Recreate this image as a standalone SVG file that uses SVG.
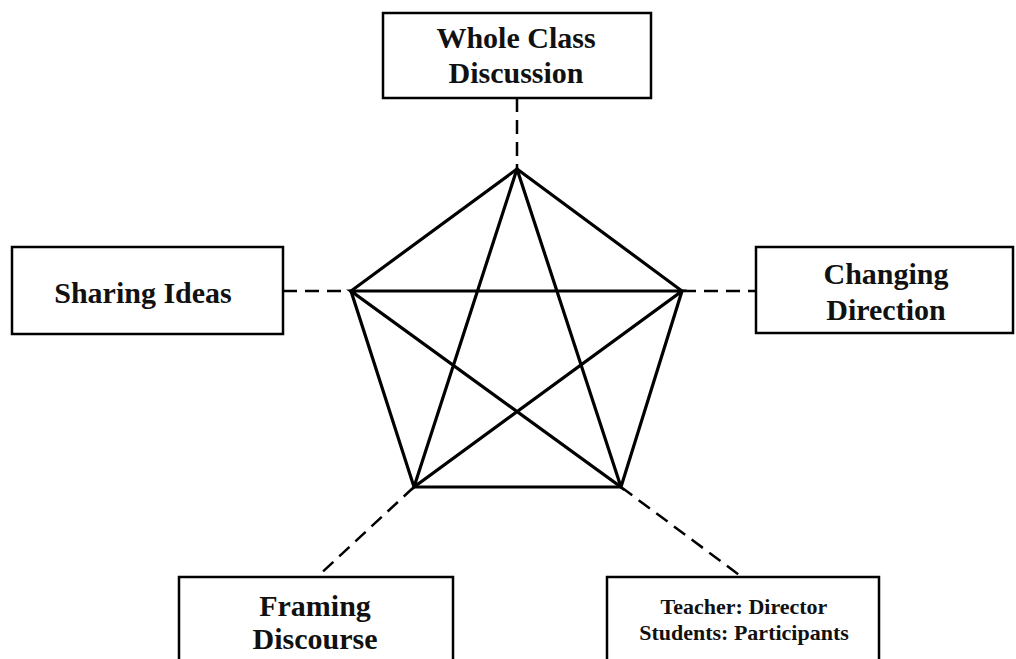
<svg xmlns="http://www.w3.org/2000/svg" width="1016" height="659" viewBox="0 0 1016 659">
<style>
.box{fill:#fff;stroke:#000;stroke-width:2.5}
.lbl{font-family:"Liberation Serif","Times New Roman",serif;font-weight:bold;font-size:30px;fill:#111;text-anchor:middle}
.sm{font-size:22px}
.edge{stroke:#000;stroke-width:3.2;stroke-linecap:round;fill:none}
.dash{stroke:#000;stroke-width:2.5;stroke-dasharray:14 8;fill:none}
</style>
<rect width="1016" height="659" fill="#fff"/>
<g id="connectors">
<line class="dash" x1="517" y1="98" x2="517" y2="169"/>
<line class="dash" x1="283" y1="291" x2="351" y2="291"/>
<line class="dash" x1="682" y1="291" x2="756" y2="291"/>
<line class="dash" x1="414" y1="487" x2="317" y2="577"/>
<line class="dash" x1="621" y1="487" x2="742" y2="577"/>
</g>
<g id="pentagram">
<polygon class="edge" points="517,169 682,291 621,487 414,487 351,291" stroke-linejoin="miter"/>
<polygon class="edge" points="517,169 621,487 351,291 682,291 414,487" stroke-linejoin="miter"/>
</g>
<g id="whole-class">
<rect class="box" x="383" y="13" width="268" height="85"/>
<text class="lbl" x="516" y="48">Whole Class</text>
<text class="lbl" x="516" y="83">Discussion</text>
</g>
<g id="sharing-ideas">
<rect class="box" x="12" y="247" width="271" height="87"/>
<text class="lbl" x="143" y="303">Sharing Ideas</text>
</g>
<g id="changing-direction">
<rect class="box" x="756" y="247" width="257" height="86"/>
<text class="lbl" x="886" y="284">Changing</text>
<text class="lbl" x="886" y="320">Direction</text>
</g>
<g id="framing-discourse">
<rect class="box" x="179" y="577" width="274" height="100"/>
<text class="lbl" x="315" y="616">Framing</text>
<text class="lbl" x="315" y="649">Discourse</text>
</g>
<g id="teacher-students">
<rect class="box" x="607" y="577" width="272" height="100"/>
<text class="lbl sm" x="744" y="614">Teacher: Director</text>
<text class="lbl sm" x="744" y="640">Students: Participants</text>
</g>
</svg>
